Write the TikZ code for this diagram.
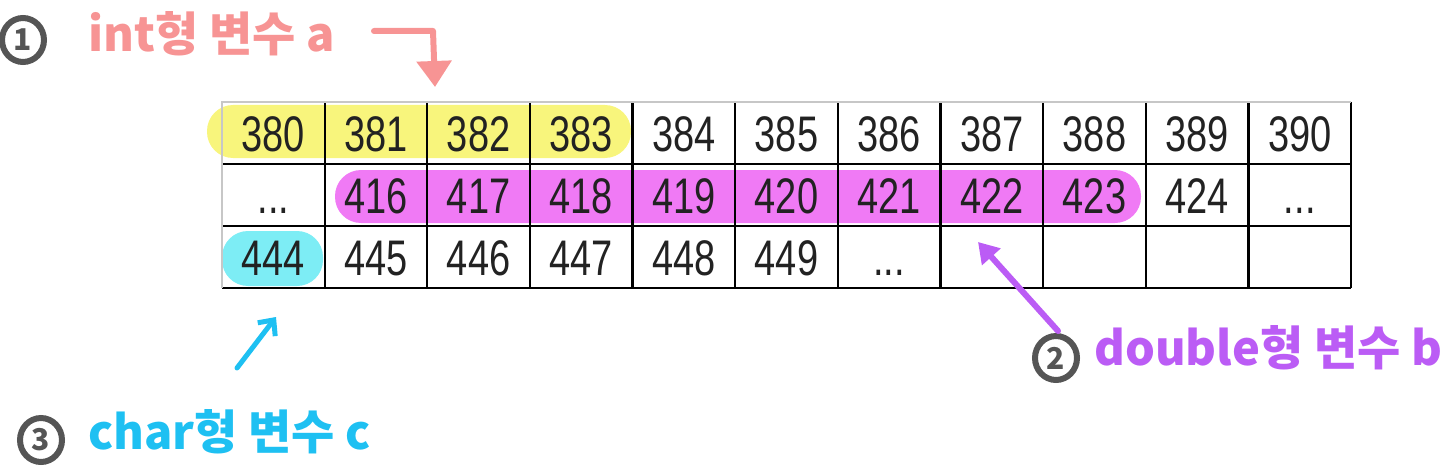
\documentclass[tikz,border=0pt]{standalone}
\usepackage{fontspec}
\newfontfamily\numfont[FakeStretch=0.76]{Liberation Sans}
\newfontfamily\kofont{Noto Sans CJK KR}
\usetikzlibrary{arrows.meta,shapes.geometric}
\definecolor{numc}{HTML}{222222}
\definecolor{yel}{HTML}{F8F57C}
\definecolor{mag}{HTML}{F07AF5}
\definecolor{cya}{HTML}{7DEDF5}
\definecolor{pinkc}{HTML}{F79494}
\definecolor{purc}{HTML}{BB5CF5}
\definecolor{cyac}{HTML}{1EC0F2}
\definecolor{grayc}{HTML}{555555}
\newcommand\dd{...}
\begin{document}
\begin{tikzpicture}[x=1pt,y=-1pt,
  num/.style={font=\numfont\fontsize{50}{50}\selectfont, text=numc, inner sep=0pt, anchor=base},
  grid/.style={line width=2.2pt, draw=black},
  lightgrid/.style={line width=2.2pt, draw=black!22},
  hl/.style={rounded corners=26pt},
  hand/.style={font=\kofont\bfseries\fontsize{47}{47}\selectfont, inner sep=0pt, anchor=west},
  badge/.style={ellipse, draw=grayc, line width=6pt, text=grayc, minimum width=42pt, minimum height=44pt, inner sep=0pt,
    font=\kofont\bfseries\fontsize{30}{30}\selectfont},
  ann/.style={line width=6pt, line cap=round, line join=round}
]
\useasboundingbox (0,0) rectangle (1440,468);
% highlights
\fill[yel, hl] (207,105) rectangle (631,158);
\fill[mag, hl] (335,170) rectangle (1141,223);
\fill[cya, hl] (222,231) rectangle (323,286);
% grid
\def\xo{222}\def\cw{102.64}\def\yo{102}\def\rh{62}
\foreach \i in {1,...,10} \draw[grid] ({\xo+\i*\cw},\yo) -- ({\xo+\i*\cw},{\yo+3*\rh});
\foreach \j in {1,2,3} \draw[grid] (\xo,{\yo+\j*\rh}) -- ({\xo+11*\cw},{\yo+\j*\rh});
\draw[grid] ({\xo+11*\cw},\yo) -- ({\xo+11*\cw},{\yo+3*\rh});
\draw[lightgrid] (\xo,{\yo+3*\rh}) -- (\xo,\yo) -- ({\xo+11*\cw},\yo);
% numbers
\foreach \t [count=\i from 0] in {380,381,382,383,384,385,386,387,388,389,390}
  \node[num] (r1c\i) at ({\xo+(\i+0.5)*\cw},{\yo+0.5*\rh+18}) {\t};
\foreach \t [count=\i from 0] in {\dd,416,417,418,419,420,421,422,423,424,\dd}
  \node[num] (r2c\i) at ({\xo+(\i+0.5)*\cw},{\yo+1.5*\rh+18}) {\t};
\foreach \t [count=\i from 0] in {444,445,446,447,448,449,\dd}
  \node[num] (r3c\i) at ({\xo+(\i+0.5)*\cw},{\yo+2.5*\rh+18}) {\t};
% annotation 1
\node[badge] (b1) at (23,40) {1};
\node[hand, text=pinkc] (l1) at (88,34) {int형 변수 a};
\coordinate (a1s) at (374,31);
\coordinate (a1c) at (433,31);
\coordinate (a1e) at (435,87);
\draw[ann, pinkc, -{Triangle[width=34pt,length=26pt]}] (a1s) -- (a1c) -- (a1e);
% annotation 2
\node[badge] (b2) at (1056,358) {2};
\node[hand, text=purc] (l2) at (1094,348) {double형 변수 b};
\coordinate (a2s) at (1058,331);
\coordinate (a2e) at (978,242);
\draw[ann, purc, -{Triangle[width=24pt,length=20pt]}] (a2s) -- (a2e);
% annotation 3
\node[badge] (b3) at (41,440) {3};
\node[hand, text=cyac] (l3) at (88,432) {char형 변수 c};
\coordinate (a3s) at (237,368);
\coordinate (a3e) at (276,317);
\draw[ann, line width=5pt, cyac, -{Straight Barb[width=22pt,length=12pt]}] (a3s) -- (a3e);
\end{tikzpicture}
\end{document}
